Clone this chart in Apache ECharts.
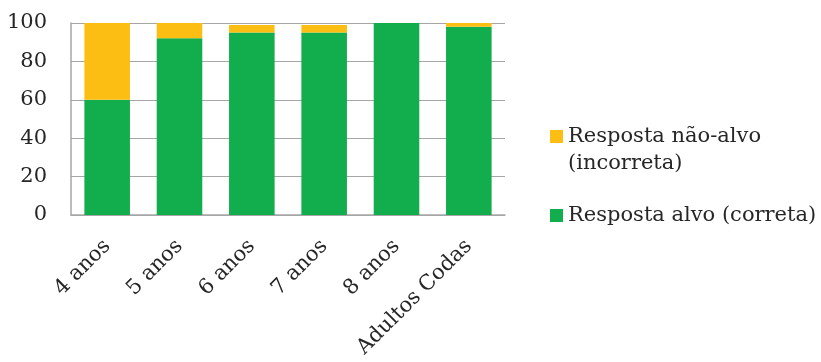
<!DOCTYPE html>
<html>
<head>
<meta charset="utf-8">
<script src="https://cdn.jsdelivr.net/npm/echarts@6/dist/echarts.min.js"></script>
<style>
  html, body { margin: 0; padding: 0; background: #ffffff; }
  #chart { width: 821px; height: 362px; }
</style>
</head>
<body>
<div id="chart"></div>
<script>
// Age groups on the x axis
const categories = ['4 anos', '5 anos', '6 anos', '7 anos', '8 anos', 'Adultos Codas'];
// Percentage of target (correct) answers
const alvoValues = [60, 92, 95, 95, 100, 98];
// Percentage of non-target (incorrect) answers
const naoAlvoValues = [40, 8, 4, 4, 0, 2];
// Y axis ticks
const yMin = 0;
const yMax = 100;
const yStep = 20;

const nameAlvo = 'Resposta alvo (correta)';
const nameNaoAlvo = 'Resposta não-alvo\n(incorreta)';

const FONT = 'DejaVu Serif';
const TEXT = '#262626';
const GRID = '#a6a6a6';

const chart = echarts.init(document.getElementById('chart'), null, { renderer: 'canvas' });

chart.setOption({
  animation: false,
  backgroundColor: '#ffffff',
  textStyle: { fontFamily: FONT },
  grid: { left: 71, right: 316, top: 23, bottom: 147, containLabel: false },
  legend: {
    orient: 'vertical',
    left: 545,
    top: 91,
    itemWidth: 13,
    itemHeight: 13,
    itemGap: 25,
    icon: 'rect',
    selectedMode: false,
    // a blank leading line keeps the first line of a wrapped label level with its swatch
    formatter: function (name) {
      return name.indexOf('\n') >= 0 ? '\n' + name : name;
    },
    textStyle: { fontFamily: FONT, fontSize: 21, color: TEXT, lineHeight: 27 },
    data: [nameNaoAlvo, nameAlvo]
  },
  xAxis: {
    type: 'category',
    data: categories,
    axisLine: { lineStyle: { color: GRID, width: 1.5 } },
    axisTick: { show: false },
    axisLabel: {
      interval: 0,
      rotate: 45,
      margin: 28,
      fontFamily: FONT,
      fontSize: 21,
      color: TEXT
    }
  },
  yAxis: {
    type: 'value',
    min: yMin,
    max: yMax,
    interval: yStep,
    axisLine: { show: true, lineStyle: { color: GRID, width: 1.5 } },
    axisTick: { show: false },
    splitLine: { show: true, lineStyle: { color: GRID, width: 1 } },
    axisLabel: {
      margin: 24,
      fontFamily: FONT,
      fontSize: 21,
      color: TEXT
    }
  },
  series: [
    {
      name: nameAlvo,
      type: 'bar',
      stack: 'total',
      barWidth: '63%',
      data: alvoValues,
      itemStyle: { color: '#12ad4c' }
    },
    {
      name: nameNaoAlvo,
      type: 'bar',
      stack: 'total',
      barWidth: '63%',
      data: naoAlvoValues,
      itemStyle: { color: '#fdbe14' }
    }
  ]
});
</script>
</body>
</html>
